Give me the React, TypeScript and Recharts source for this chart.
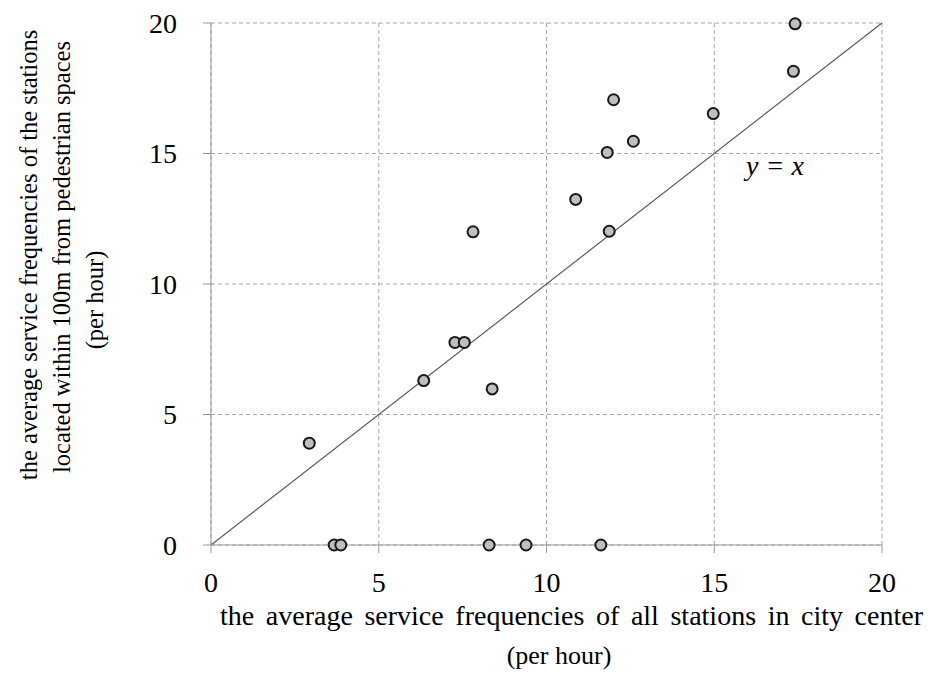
import React from 'react';
import {
  ScatterChart,
  Scatter,
  XAxis,
  YAxis,
  CartesianGrid,
  ReferenceLine,
  ReferenceDot,
} from 'recharts';

// all-station frequency (x) vs. frequency near pedestrian spaces (y), per hour
const cityCenter = [2.93, 3.67, 3.87, 6.34, 7.27, 7.55, 8.38, 7.81, 8.29, 9.39, 11.62, 10.87, 11.87, 11.81, 12.0, 12.59, 14.97, 17.36, 17.41];
const nearPedestrian = [3.9, 0, 0, 6.3, 7.76, 7.76, 5.98, 12.0, 0, 0, 0, 13.24, 12.02, 15.04, 17.06, 15.47, 16.53, 18.15, 19.97];
const axisTicks = [0, 5, 10, 15, 20];

const yTitle = [
  'the average service frequencies of the stations',
  'located within 100m from pedestrian spaces',
  '(per hour)',
];
const xTitle = ['the average service frequencies of all stations in city center', '(per hour)'];

const data = cityCenter.map((x, i) => ({ x, y: nearPedestrian[i] }));

const FONT = '"Liberation Serif", "Times New Roman", serif';

const Dot = (props: any) => (
  <circle cx={props.cx} cy={props.cy} r={5.5} fill="#bfbfbf" stroke="#1a1a1a" strokeWidth={2} />
);

const YTitle = () => {
  // line centres (x, y)
  const pos = [
    [28, 255],
    [61, 257],
    [94, 300],
  ];
  return (
    <g>
      {yTitle.map((line, i) => (
        <text
          key={i}
          x={pos[i][0]}
          y={pos[i][1]}
          transform={`rotate(-90 ${pos[i][0]} ${pos[i][1]})`}
          textAnchor="middle"
          dominantBaseline="central"
          style={{ fontFamily: FONT }}
          fontSize={24.5}
          fill="#000"
        >
          {line}
        </text>
      ))}
    </g>
  );
};

const XTitle = (props: any) => {
  const vb = props.viewBox || { x: 211, y: 545.5, width: 671, height: 60 };
  return (
    <g style={{ fontFamily: FONT }} fill="#000">
      <text x={vb.x + 9} y={vb.y + 80} fontSize={28} wordSpacing={4.6}>{xTitle[0]}</text>
      <text x={559} y={vb.y + 119} fontSize={26} textAnchor="middle">{xTitle[1]}</text>
    </g>
  );
};

const tickStyle = { fill: '#000', fontSize: 28, fontFamily: FONT, style: { fontFamily: FONT } };

export default function App() {
  return (
    <div style={{ position: 'absolute', left: 0, top: 0, background: '#fff', fontFamily: FONT }}>
      <ScatterChart
        width={929}
        height={678}
        margin={{ top: 23, right: 47, left: 111, bottom: 73 }}
        style={{ fontFamily: FONT }}
      >
        <CartesianGrid stroke="#a6a6a6" strokeDasharray="4 3" />
        <XAxis
          type="number"
          dataKey="x"
          domain={[0, 20]}
          ticks={axisTicks}
          height={60}
          tickSize={8}
          tickMargin={19}
          stroke="#9a9a9a"
          tick={tickStyle}
          label={<XTitle />}
        />
        <YAxis
          type="number"
          dataKey="y"
          domain={[0, 20]}
          ticks={axisTicks}
          width={100}
          tickSize={8}
          tickMargin={26}
          stroke="#9a9a9a"
          tick={tickStyle}
          label={<YTitle />}
        />
        <ReferenceLine
          segment={[{ x: 0, y: 0 }, { x: 20, y: 20 }]}
          stroke="#5a5a5a"
          strokeWidth={1.2}
        />
        <ReferenceDot
          x={16.81}
          y={14.54}
          r={0}
          stroke="none"
          label={{ value: 'y = x', fontSize: 28, fontStyle: 'italic', fill: '#000', position: 'center', style: { fontFamily: FONT } }}
        />
        <Scatter data={data} shape={<Dot />} isAnimationActive={false} />
      </ScatterChart>
    </div>
  );
}
